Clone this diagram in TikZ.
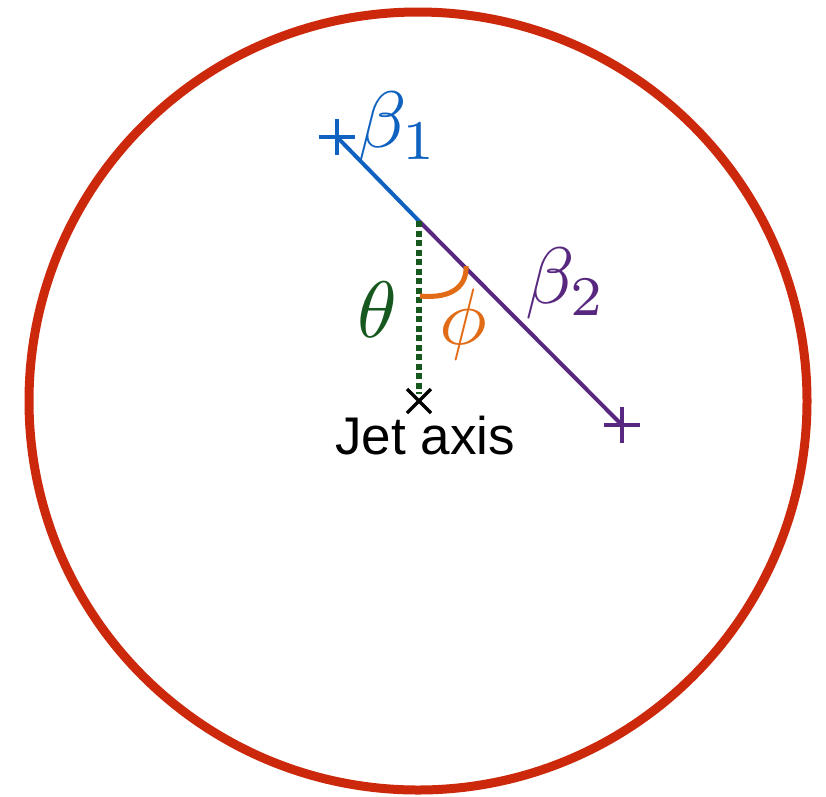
\documentclass[tikz,border=0pt]{standalone}
\usepackage{fontspec}
\newfontfamily\jetfont{Liberation Sans}
\definecolor{ringred}{RGB}{204,40,12}
\definecolor{bblue}{RGB}{16,98,192}
\definecolor{bpurple}{RGB}{88,40,128}
\definecolor{tgreen}{RGB}{22,88,30}
\definecolor{porange}{RGB}{226,108,22}
\begin{document}
\begin{tikzpicture}[x=1pt,y=-1pt,
  mathlbl/.style={inner sep=0pt, scale=8},
  plusmark/.style={line width=4.5pt},
  beamline/.style={line width=4pt}]
\useasboundingbox (0,0) rectangle (826,796);
\coordinate (c) at (418,401);
\coordinate (p1) at (337,137);
\coordinate (j) at (419,221);
\coordinate (p2) at (622,425);
\coordinate (ax) at (419,401);
\coordinate (gend) at (419,394);
\coordinate (arcA) at (420,296);
\coordinate (arcB) at (466,266);
% ring
\draw[ringred, line width=9pt] (c) circle[radius=389pt];
% lines
\draw[bblue, beamline] (p1) -- (j);
\draw[bpurple, beamline] (j) -- (p2);
\draw[tgreen, line width=6pt, dash pattern=on 6pt off 3.5pt] (j) -- (gend);
\draw[porange, line width=5pt] (arcA) .. controls (452,299) and (467,286) .. (arcB);
% plus marks
\draw[bblue, plusmark] (p1) ++(-18,0) -- ++(36,0) (p1) ++(0,-18) -- ++(0,36);
\draw[bpurple, plusmark] (p2) ++(-18,0) -- ++(36,0) (p2) ++(0,-18) -- ++(0,36);
% jet axis cross
\draw[black, line width=3.5pt] (ax) ++(-12,-12) -- ++(24,24) (ax) ++(-12,12) -- ++(24,-24);
% labels
\node[mathlbl, text=bblue] (b1) at (398,127) {$\beta_1$};
\node[mathlbl, text=bpurple] (b2) at (566,283) {$\beta_2$};
\node[mathlbl, text=tgreen] (th) at (377,310) {$\theta$};
\node[mathlbl, text=porange] (ph) at (463,324) {$\phi$};
\node[inner sep=0pt, font=\jetfont\fontsize{53}{60}\selectfont] (ja) at (425,436) {Jet axis};
\end{tikzpicture}
\end{document}
